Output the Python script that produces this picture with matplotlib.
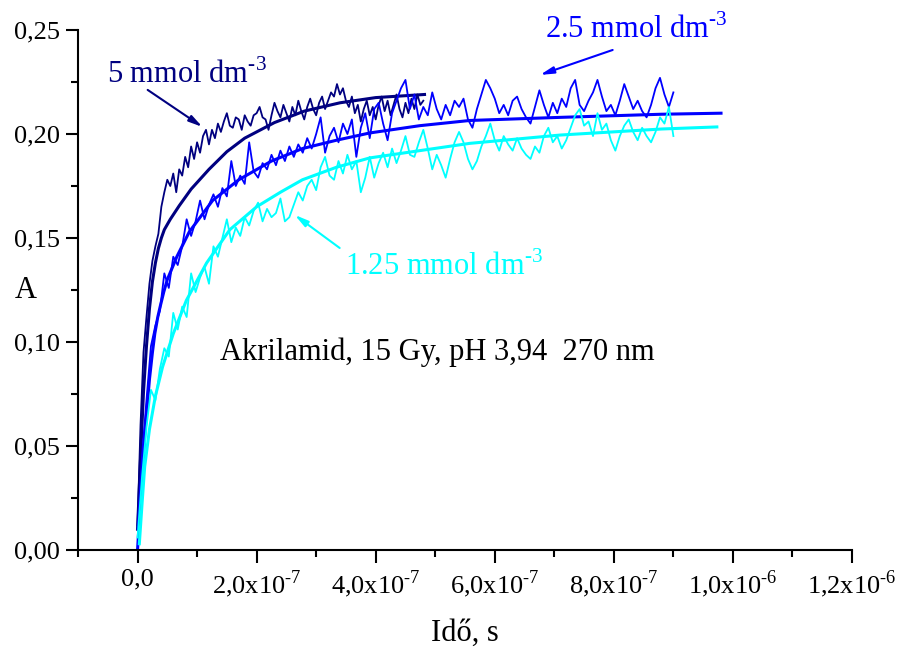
import numpy as np
import matplotlib
matplotlib.use('Agg')
import matplotlib.pyplot as plt

plt.rcParams['font.family'] = 'Liberation Serif'
plt.rcParams['mathtext.fontset'] = 'custom'
plt.rcParams['mathtext.rm'] = 'Liberation Serif'

# time values in units of 1e-8 s, absorbance A
step_5 = 0.5
data_5 = [0.012, 0.060, 0.095, 0.112, 0.128, 0.139, 0.146, 0.152, 0.165, 0.172,
          0.178, 0.175, 0.181, 0.172, 0.183, 0.180, 0.189, 0.184, 0.194, 0.188,
          0.196, 0.191, 0.199, 0.202, 0.195, 0.202, 0.198, 0.205, 0.201, 0.206,
          0.210, 0.204, 0.203, 0.208, 0.207, 0.202, 0.209, 0.206, 0.204, 0.209,
          0.210, 0.213, 0.208, 0.207, 0.202, 0.209, 0.215, 0.211, 0.208, 0.214,
          0.210, 0.206, 0.213, 0.209, 0.216, 0.211, 0.207, 0.213, 0.217, 0.212,
          0.209, 0.215, 0.218, 0.212, 0.216, 0.220, 0.218, 0.224, 0.219, 0.222,
          0.216, 0.213, 0.218, 0.210, 0.214, 0.206, 0.212, 0.216, 0.209, 0.213,
          0.207, 0.214, 0.218, 0.211, 0.216, 0.209, 0.214, 0.219, 0.212, 0.208,
          0.215, 0.210, 0.217, 0.212, 0.219, 0.214, 0.216]

step_25 = 0.75
data_25 = [0.010, 0.045, 0.072, 0.098, 0.108, 0.115, 0.133, 0.126, 0.141, 0.137,
           0.146, 0.159, 0.151, 0.158, 0.168, 0.159, 0.166, 0.171, 0.165, 0.174,
           0.170, 0.187, 0.175, 0.180, 0.176, 0.196, 0.182, 0.179, 0.186, 0.183,
           0.190, 0.185, 0.192, 0.187, 0.194, 0.189, 0.195, 0.191, 0.198, 0.193,
           0.200, 0.208, 0.191, 0.199, 0.203, 0.196, 0.205, 0.200, 0.207, 0.189,
           0.203, 0.210, 0.198, 0.212, 0.215, 0.205, 0.197, 0.210, 0.216, 0.222,
           0.226, 0.212, 0.219, 0.207, 0.213, 0.209, 0.220, 0.212, 0.207, 0.214,
           0.209, 0.216, 0.213, 0.217, 0.207, 0.203, 0.212, 0.219, 0.226, 0.222,
           0.217, 0.210, 0.214, 0.209, 0.216, 0.218, 0.212, 0.208, 0.205, 0.213,
           0.221, 0.214, 0.208, 0.215, 0.210, 0.217, 0.213, 0.222, 0.226, 0.214,
           0.211, 0.216, 0.220, 0.226, 0.218, 0.211, 0.214, 0.209, 0.216, 0.224,
           0.218, 0.212, 0.216, 0.211, 0.208, 0.214, 0.222, 0.227, 0.219, 0.213,
           0.220]

step_125 = 0.75
data_125 = [0.006, 0.035, 0.059, 0.077, 0.072, 0.087, 0.097, 0.093, 0.114, 0.106,
            0.117, 0.112, 0.133, 0.124, 0.131, 0.136, 0.128, 0.146, 0.141, 0.150,
            0.159, 0.148, 0.155, 0.151, 0.160, 0.156, 0.163, 0.167, 0.158, 0.164,
            0.160, 0.162, 0.169, 0.158, 0.160, 0.166, 0.172, 0.168, 0.175, 0.178,
            0.173, 0.184, 0.189, 0.180, 0.178, 0.187, 0.181, 0.190, 0.183, 0.187,
            0.172, 0.179, 0.189, 0.179, 0.186, 0.191, 0.184, 0.193, 0.186, 0.192,
            0.199, 0.190, 0.189, 0.196, 0.202, 0.193, 0.183, 0.190, 0.185, 0.179,
            0.188, 0.196, 0.201, 0.196, 0.188, 0.183, 0.187, 0.194, 0.199, 0.205,
            0.197, 0.192, 0.199, 0.195, 0.192, 0.198, 0.193, 0.190, 0.188, 0.194,
            0.191, 0.199, 0.203, 0.196, 0.199, 0.193, 0.197, 0.203, 0.209, 0.212,
            0.204, 0.206, 0.199, 0.210, 0.202, 0.205, 0.197, 0.192, 0.199, 0.204,
            0.207, 0.201, 0.197, 0.203, 0.199, 0.196, 0.201, 0.208, 0.205, 0.213,
            0.199]

# fitted curves
fit_t_5 = [0, 0.3, 0.7, 1.0, 1.5, 2.0, 2.5, 3.0, 3.5, 4.0, 4.5, 5.5, 7.0, 9.0,
           12, 15, 18, 23, 28, 34, 40, 48.2]
fit_5 = [0.010, 0.030, 0.057, 0.076, 0.098, 0.116, 0.129, 0.138, 0.145, 0.150,
         0.154, 0.159, 0.1655, 0.1735, 0.183, 0.1915, 0.198, 0.2055, 0.211, 0.215,
         0.2175, 0.219]

fit_t_25 = [0, 0.67, 1.2, 2.0, 2.5, 2.9, 3.4, 3.8, 4.4, 5.0, 6.6, 8.7, 12.6, 17,
            22.5, 27.7, 33.4, 39, 47.4, 55.8, 71, 88, 98]
fit_25 = [0.000, 0.032, 0.055, 0.082, 0.095, 0.104, 0.112, 0.117, 0.124, 0.130,
          0.141, 0.153, 0.168, 0.178, 0.187, 0.193, 0.197, 0.2005, 0.204, 0.2065,
          0.208, 0.2095, 0.210]

fit_t_125 = [0.3, 0.8, 1.2, 2.0, 3.0, 4.2, 6.0, 8.2, 11.6, 15.5, 20, 24, 27.7,
             33.4, 39, 47.4, 55.8, 71, 88, 97.3]
fit_125 = [0.003, 0.024, 0.040, 0.058, 0.074, 0.088, 0.104, 0.120, 0.138, 0.154,
           0.165, 0.172, 0.178, 0.184, 0.1885, 0.192, 0.1955, 0.1995, 0.2024, 0.2034]

x_ticks = [0, 2e-7, 4e-7, 6e-7, 8e-7, 1e-6, 1.2e-6]
x_labels = ['0,0', '2,0x10$^{\\text{-7}}$', '4,0x10$^{\\text{-7}}$',
            '6,0x10$^{\\text{-7}}$', '8,0x10$^{\\text{-7}}$',
            '1,0x10$^{\\text{-6}}$', '1,2x10$^{\\text{-6}}$']
y_ticks = [0.0, 0.05, 0.10, 0.15, 0.20, 0.25]
y_labels = ['0,00', '0,05', '0,10', '0,15', '0,20', '0,25']

c_navy = '#000080'
c_blue = '#0000ff'
c_cyan = '#00ffff'

fig = plt.figure(figsize=(9.01, 6.52), dpi=100)
ax = fig.add_axes([78/901, 1 - 550/652, 774/901, 520/652])

t5 = np.arange(len(data_5)) * step_5 * 1e-8
t25 = np.arange(len(data_25)) * step_25 * 1e-8
t125 = np.arange(len(data_125)) * step_125 * 1e-8

ax.plot(t5, data_5, color=c_navy, lw=1.3)
ax.plot(np.array(fit_t_5) * 1e-8, fit_5, color=c_navy, lw=2.2)
ax.plot(t25, data_25, color=c_blue, lw=1.3)
ax.plot(np.array(fit_t_25) * 1e-8, fit_25, color=c_blue, lw=2.2)
ax.plot(t125, data_125, color=c_cyan, lw=1.3)
ax.plot(np.array(fit_t_125) * 1e-8, fit_125, color=c_cyan, lw=2.2)

ax.set_xlim(-1.0e-7, 1.2e-6)
ax.set_ylim(0, 0.25)
ax.spines['top'].set_visible(False)
ax.spines['right'].set_visible(False)
for s in ['left', 'bottom']:
    ax.spines[s].set_linewidth(1.5)

ax.set_xticks(x_ticks)
ax.set_xticklabels(x_labels)
ax.set_xticks([-1e-7, 1e-7, 3e-7, 5e-7, 7e-7, 9e-7, 1.1e-6], minor=True)
ax.set_yticks(y_ticks)
ax.set_yticklabels(y_labels)
ax.set_yticks([0.025, 0.075, 0.125, 0.175, 0.225], minor=True)
ax.tick_params(which='major', length=9, width=1.5, labelsize=19, pad=4)
ax.tick_params(which='minor', length=5, width=1.5)

ax.set_xlabel('Idő, s', fontsize=22)
ax.xaxis.set_label_coords(0.5, -0.132)
ax.set_ylabel('A', fontsize=22, rotation=0, ha='center', va='center')
ax.yaxis.set_label_coords(-0.067, 0.5)

arrow = dict(arrowstyle='-|>,head_length=0.8,head_width=0.2', lw=1.5, shrinkA=0, shrinkB=0)

ax.text(-5.2e-8, 0.2245, '5 mmol dm$^{\\text{-3}}$', color=c_navy, fontsize=22, va='baseline')
ax.annotate('', xy=(1.09e-7, 0.2034), xytext=(1.7e-8, 0.2212),
            arrowprops=dict(arrow, color=c_navy))

ax.text(6.84e-7, 0.2462, '2.5 mmol dm$^{\\text{-3}}$', color=c_blue, fontsize=22, va='baseline')
ax.annotate('', xy=(6.76e-7, 0.2284), xytext=(7.98e-7, 0.2404),
            arrowprops=dict(arrow, color=c_blue))

ax.text(3.48e-7, 0.1322, '1.25 mmol dm$^{\\text{-3}}$', color=c_cyan, fontsize=22, va='baseline')
ax.annotate('', xy=(2.64e-7, 0.1611), xytext=(3.395e-7, 0.1452),
            arrowprops=dict(arrow, color=c_cyan))

ax.text(1.38e-7, 0.0913, 'Akrilamid, 15 Gy, pH 3,94  270 nm', color='black', fontsize=22, va='baseline')

fig.savefig('out.png', dpi=100)
